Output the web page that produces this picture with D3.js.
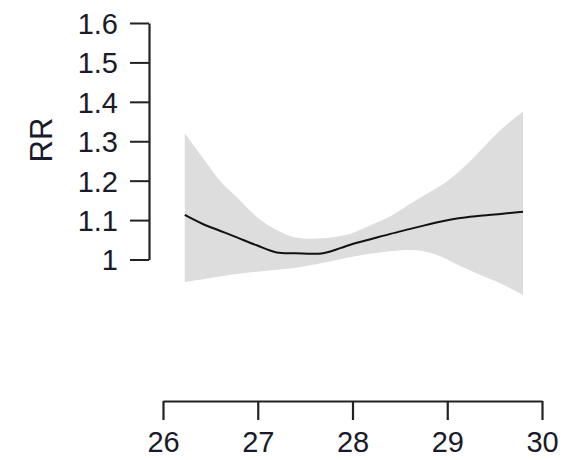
<!DOCTYPE html>
<html><head><meta charset="utf-8">
<script src="https://cdn.jsdelivr.net/npm/d3@7"></script>
<style>body{margin:0;background:#fff}svg{display:block}</style>
</head><body>
<svg id="c" width="568" height="460"></svg>
<script>
const xVals  = [26.23,26.42,26.6,26.78,26.99,27.2,27.4,27.69,27.97,28.2,28.4,28.6,28.75,28.95,29.1,29.3,29.5,29.66,29.8];
const fitRR  = [1.113,1.09,1.073,1.056,1.036,1.018,1.016,1.016,1.037,1.052,1.065,1.077,1.086,1.097,1.104,1.11,1.114,1.118,1.121];
const upperRR= [1.32,1.258,1.2,1.158,1.108,1.075,1.056,1.054,1.065,1.088,1.11,1.14,1.162,1.19,1.218,1.264,1.314,1.349,1.375];
const lowerRR= [0.943,0.95,0.957,0.963,0.969,0.974,0.979,0.992,1.006,1.015,1.021,1.024,1.021,1.006,0.988,0.966,0.946,0.928,0.91];
const xTicks = [26,27,28,29,30];
const yTicks = [1,1.1,1.2,1.3,1.4,1.5,1.6];
const yTickLabels = ["1","1.1","1.2","1.3","1.4","1.5","1.6"];
const yTitle = "RR";

const svg = d3.select("#c");
const x = d3.scaleLinear().domain([26,30]).range([163,542]);
const y = d3.scaleLinear().domain([1,1.6]).range([259.5,23]);
const font = "Liberation Sans, Arial, sans-serif";

const data = xVals.map((v,i)=>({x:v,f:fitRR[i],lo:lowerRR[i],hi:upperRR[i]}));

svg.append("path").datum(data)
  .attr("fill","#dddddd")
  .attr("d", d3.area().x(d=>x(d.x)).y0(d=>y(d.lo)).y1(d=>y(d.hi)).curve(d3.curveCatmullRom.alpha(0.5)));
svg.append("path").datum(data)
  .attr("fill","none").attr("stroke","#111").attr("stroke-width",2)
  .attr("d", d3.line().x(d=>x(d.x)).y(d=>y(d.f)).curve(d3.curveCatmullRom.alpha(0.5)));

// y axis
const ya = svg.append("g").attr("transform","translate(149,0)")
  .call(d3.axisLeft(y).tickValues(yTicks).tickFormat((d,i)=>yTickLabels[i]).tickSize(19).tickPadding(12).tickSizeOuter(0));
ya.select(".domain").attr("stroke","#222").attr("stroke-width",2.2);
ya.selectAll(".tick line").attr("stroke","#222").attr("stroke-width",2);
ya.selectAll(".tick text").attr("font-family",font).attr("font-size",29).attr("fill","#1a1a2a").attr("dy","0.36em");

// x axis
const xa = svg.append("g").attr("transform","translate(0,401)")
  .call(d3.axisBottom(x).tickValues(xTicks).tickFormat(d3.format("d")).tickSize(19).tickPadding(11).tickSizeOuter(0));
xa.select(".domain").attr("stroke","#222").attr("stroke-width",2.2);
xa.selectAll(".tick line").attr("stroke","#222").attr("stroke-width",2.2);
xa.selectAll(".tick text").attr("font-family",font).attr("font-size",29).attr("fill","#1a1a2a").attr("dy","0.71em");

svg.append("text").attr("transform","translate(52,140) rotate(-90)")
  .attr("text-anchor","middle").attr("font-family",font).attr("font-size",31).attr("fill","#1a1a2a")
  .text(yTitle);
</script>
</body></html>
